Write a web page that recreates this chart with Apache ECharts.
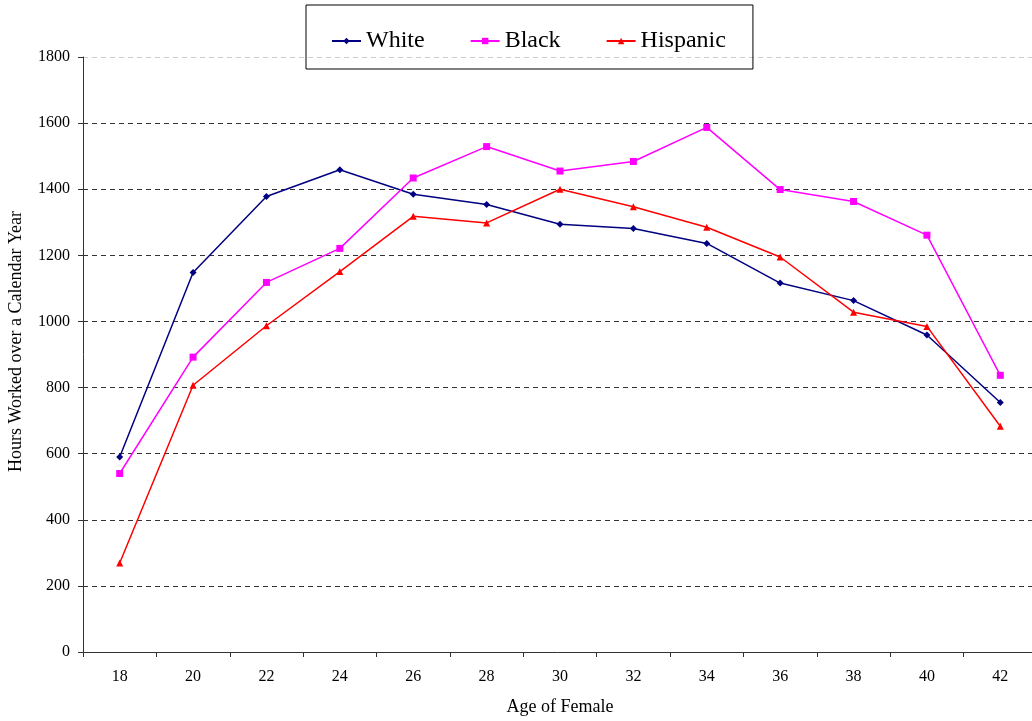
<!DOCTYPE html>
<html>
<head>
<meta charset="utf-8">
<script src="https://cdn.jsdelivr.net/npm/echarts@6/dist/echarts.min.js"></script>
<style>html,body{margin:0;padding:0;background:#fff;}#c{width:1032px;height:721px;}</style>
</head>
<body>
<div id="c"></div>
<script>
var ages = ['18','20','22','24','26','28','30','32','34','36','38','40','42'];
var white = [590,1148,1378,1459,1385,1354,1294,1281,1236,1116,1063,959,755];
var black = [540,892,1118,1221,1434,1529,1455,1484,1587,1399,1363,1261,837];
var hispanic = [269,807,987,1151,1318,1298,1400,1347,1285,1195,1028,985,683];
var yTicks = {min:0, max:1800, interval:200};

var font = '"Liberation Serif","Times New Roman",serif';
var chart = echarts.init(document.getElementById('c'), null, {renderer:'canvas'});
function ser(name, data, color, symbol, size){
  return {name:name, type:'line', data:data, symbol:symbol, symbolSize:size,
    itemStyle:{color:color}, lineStyle:{color:color, width:1.5}, animation:false};
}
var gridColors = ['#333','#333','#333','#333','#333','#333','#333','#333','#333','#ccc'];
chart.setOption({
  animation:false,
  backgroundColor:'#fff',
  legend:{
    left:306, top:5,
    padding:[24,27,16,25],
    borderColor:'#000', borderWidth:1,
    itemGap:45, itemWidth:29, itemHeight:8,
    textStyle:{fontFamily:font, fontSize:24, color:'#000'},
    data:['White','Black','Hispanic']
  },
  grid:{left:83, top:57, width:954, height:595, containLabel:false, outerBoundsMode:'none'},
  xAxis:{
    type:'category', data:ages, boundaryGap:true,
    name:'Age of Female', nameLocation:'middle', nameGap:46,
    nameTextStyle:{fontFamily:font, fontSize:18, color:'#000'},
    axisLine:{lineStyle:{color:'#333', width:1}},
    axisTick:{show:true, length:5, alignWithLabel:false, lineStyle:{color:'#333'}},
    axisLabel:{fontFamily:font, fontSize:16, color:'#000', margin:17},
    splitLine:{show:false}
  },
  yAxis:{
    type:'value', min:yTicks.min, max:yTicks.max, interval:yTicks.interval,
    name:'Hours Worked over a Calendar Year', nameLocation:'middle', nameGap:58, nameRotate:90,
    nameTextStyle:{fontFamily:font, fontSize:18, color:'#000', padding:[0,0,0,26]},
    axisLine:{show:true, lineStyle:{color:'#333', width:1}},
    axisTick:{show:true, length:5, lineStyle:{color:'#333'}},
    axisLabel:{fontFamily:font, fontSize:16, color:'#000', margin:13, formatter:function(v){return String(v);}},
    splitLine:{show:true, lineStyle:{color:gridColors, type:[5,4], width:1}}
  },
  series:[
    ser('White', white, '#000080', 'diamond', 7),
    ser('Black', black, '#ff00ff', 'rect', 7),
    ser('Hispanic', hispanic, '#ff0000', 'triangle', 7)
  ]
});
</script>
</body>
</html>
